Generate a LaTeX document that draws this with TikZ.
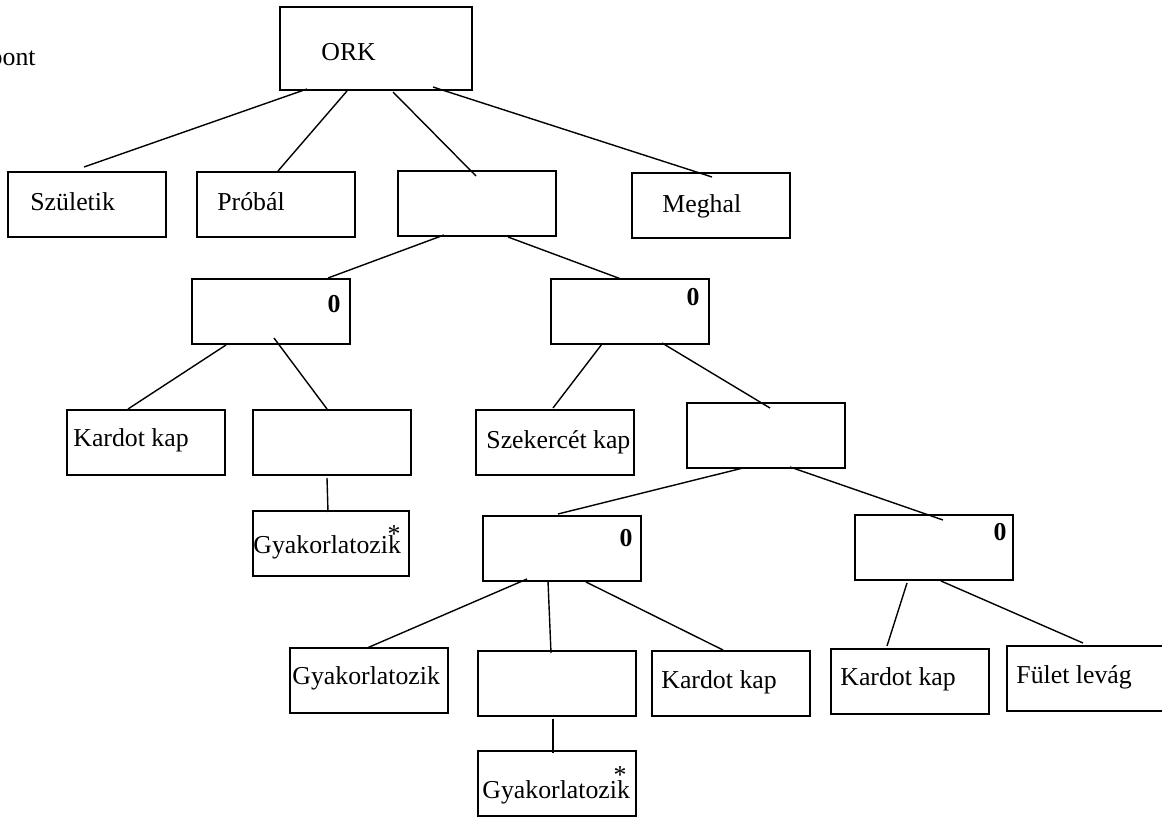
\documentclass[tikz,border=0pt]{standalone}
\usepackage{fontspec}
\setmainfont{Liberation Serif}
\begin{document}
\begin{tikzpicture}[x=0.5pt,y=-0.5pt,
  box/.style={draw,line width=0.85pt,rectangle,anchor=north west,inner sep=0pt,outer sep=0pt,minimum width=79pt,minimum height=32.5pt},
  txt/.style={anchor=base west,inner sep=0pt,font=\fontsize{12.9}{15}\selectfont},
  zero/.style={inner sep=0pt,font=\fontsize{12.9}{15}\selectfont\bfseries},
  star/.style={anchor=base,inner sep=0pt,font=\fontsize{12.9}{15}\selectfont},
  link/.style={line width=0.7pt}]
\useasboundingbox (0,0) rectangle (1162,819);
\clip (0,0) rectangle (1162,819);

% boxes
\node[box,minimum width=96pt,minimum height=41.5pt] (ork) at (280,7) {};
\node[box] (szul) at (8,172) {};
\node[box] (prob) at (197,172) {};
\node[box] (mid) at (398,171) {};
\node[box] (megh) at (632,173) {};
\node[box] (boxA) at (192,279) {};
\node[box] (boxB) at (551,279) {};
\node[box] (kard1) at (67,410) {};
\node[box] (boxC) at (253,410) {};
\node[box] (szek) at (476,410) {};
\node[box] (boxD) at (687,403) {};
\node[box,minimum width=78pt] (gyak1) at (253,511) {};
\node[box] (boxE) at (483,516) {};
\node[box] (boxF) at (855,515) {};
\node[box] (gyak2) at (290,648) {};
\node[box] (boxG) at (478,651) {};
\node[box] (kard2) at (652,651) {};
\node[box] (kard3) at (831,649) {};
\node[box] (fulet) at (1007,646) {};
\node[box] (gyak3) at (478,751) {};

% texts
\node[txt,anchor=base east] (tpont) at (36,65) {pont};
\node[txt] (tork) at (321,60) {ORK};
\node[txt] (tszul) at (30,210) {Születik};
\node[txt] (tprob) at (217,210) {Próbál};
\node[txt] (tmegh) at (662,212) {Meghal};
\node[txt] (tkard1) at (73,446) {Kardot kap};
\node[txt] (tszek) at (486,448) {Szekercét kap};
\node[txt] (tgyak1) at (253,553) {Gyakorlatozik};
\node[star] (sgyak1) at (394,542) {*};
\node[txt] (tgyak2) at (292,684) {Gyakorlatozik};
\node[txt] (tkard2) at (661,688) {Kardot kap};
\node[txt] (tkard3) at (840,685) {Kardot kap};
\node[txt] (tfulet) at (1016,683) {Fület levág};
\node[txt] (tgyak3) at (482,798) {Gyakorlatozik};
\node[star] (sgyak3) at (620,783) {*};

\node[zero] (zA) at (334,304) {0};
\node[zero] (zB) at (693,297) {0};
\node[zero] (zE) at (626,538) {0};
\node[zero] (zF) at (1000,532) {0};

% connectors
\draw[link] ([shift={(27,82)}]ork.north west) -- ([shift={(76,-5)}]szul.north west);
\draw[link] ([shift={(67,84)}]ork.north west) -- ([shift={(81,-1)}]prob.north west);
\draw[link] ([shift={(113,85)}]ork.north west) -- ([shift={(78,5)}]mid.north west);
\draw[link] ([shift={(153,80)}]ork.north west) -- ([shift={(80,4)}]megh.north west);
\draw[link] ([shift={(46,64)}]mid.north west) -- ([shift={(136,-1)}]boxA.north west);
\draw[link] ([shift={(110,66)}]mid.north west) -- ([shift={(70,0)}]boxB.north west);
\draw[link] ([shift={(34,66)}]boxA.north west) -- ([shift={(61,-1)}]kard1.north west);
\draw[link] ([shift={(82,59)}]boxA.north west) -- ([shift={(74,-1)}]boxC.north west);
\draw[link] ([shift={(74,68)}]boxC.north west) -- ([shift={(75,1)}]gyak1.north west);
\draw[link] ([shift={(51,65)}]boxB.north west) -- ([shift={(77,-2)}]szek.north west);
\draw[link] ([shift={(111,64)}]boxB.north west) -- ([shift={(83,5)}]boxD.north west);
\draw[link] ([shift={(56,65)}]boxD.north west) -- ([shift={(75,-2)}]boxE.north west);
\draw[link] ([shift={(103,64)}]boxD.north west) -- ([shift={(88,5)}]boxF.north west);
\draw[link] ([shift={(44,63)}]boxE.north west) -- ([shift={(77,0)}]gyak2.north west);
\draw[link] ([shift={(65,65)}]boxE.north west) -- ([shift={(73,2)}]boxG.north west);
\draw[link] ([shift={(103,66)}]boxE.north west) -- ([shift={(71,-1)}]kard2.north west);
\draw[link] ([shift={(75,68)}]boxG.north west) -- ([shift={(75,2)}]gyak3.north west);
\draw[link] ([shift={(52,68)}]boxF.north west) -- ([shift={(56,-3)}]kard3.north west);
\draw[link] ([shift={(86,66)}]boxF.north west) -- ([shift={(76,-3)}]fulet.north west);
\end{tikzpicture}
\end{document}
